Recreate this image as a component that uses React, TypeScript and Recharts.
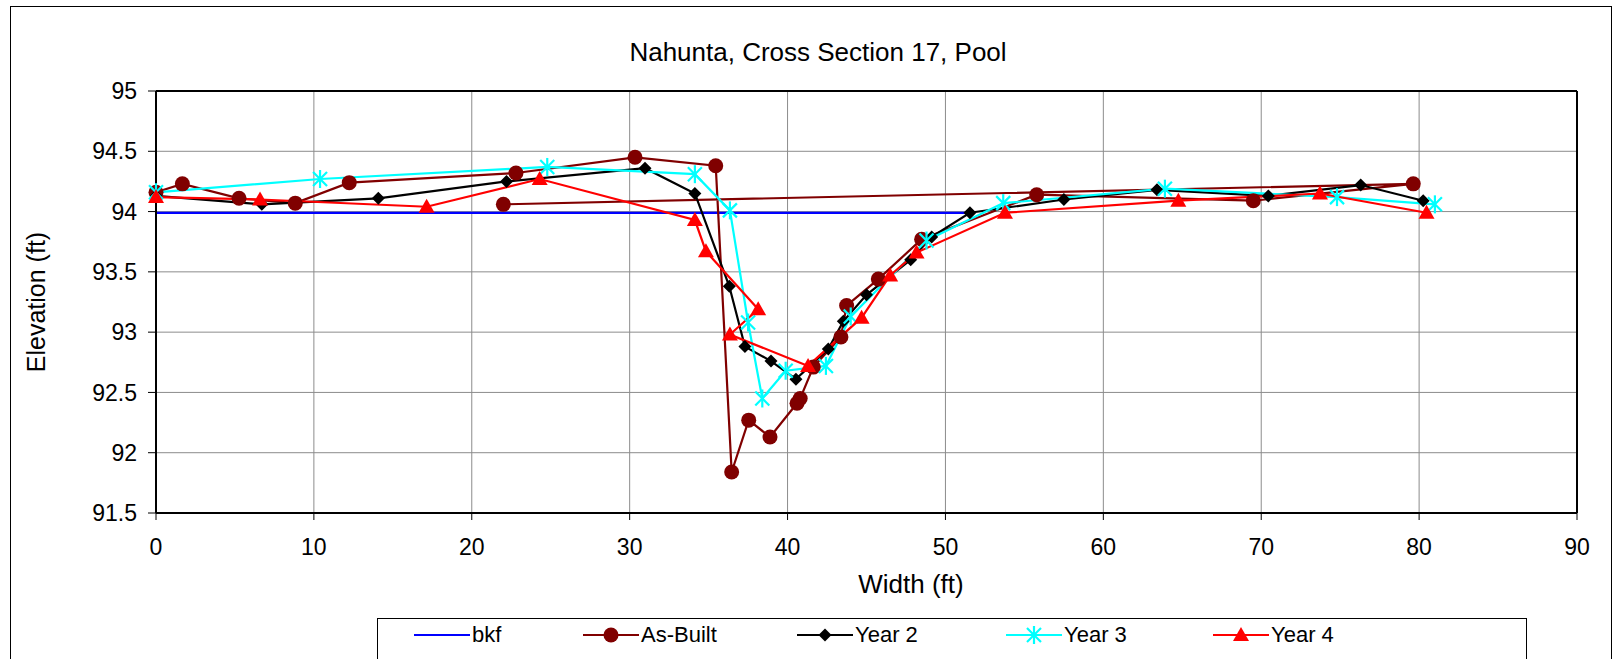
import { LineChart, Line, XAxis, YAxis, CartesianGrid, ReferenceLine, Legend, Label } from 'recharts';

const FONT = 'Arial, "Liberation Sans", sans-serif';

// bankfull line
const bkfWidth = [0, 51.5];
const bkfElev = [93.99, 93.99];

// as-built survey (last point loops back to 22 ft)
const asBuiltWidth = [0, 1.67, 5.26, 8.82, 12.24, 22.8, 30.34, 35.45, 36.46, 37.54, 38.89, 40.6, 40.8, 41.63, 43.38, 43.74, 45.75, 48.49, 55.78, 69.5, 79.63, 22.0];
const asBuiltElev = [94.16, 94.23, 94.11, 94.07, 94.24, 94.32, 94.45, 94.38, 91.84, 92.27, 92.13, 92.41, 92.45, 92.71, 92.96, 93.22, 93.44, 93.77, 94.14, 94.09, 94.23, 94.06];

const year2Width = [0, 6.7, 14.08, 22.2, 30.97, 34.13, 36.31, 37.3, 38.95, 40.53, 42.58, 43.53, 45.0, 47.8, 49.13, 51.55, 57.5, 63.4, 70.45, 76.3, 80.26];
const year2Elev = [94.13, 94.06, 94.11, 94.25, 94.36, 94.15, 93.38, 92.88, 92.76, 92.61, 92.86, 93.09, 93.31, 93.6, 93.79, 93.99, 94.1, 94.18, 94.13, 94.22, 94.09];

const year3Width = [0, 10.39, 24.78, 34.13, 36.35, 37.5, 38.4, 39.88, 42.43, 44.0, 48.8, 53.66, 63.9, 74.8, 81.0];
const year3Elev = [94.16, 94.27, 94.37, 94.31, 94.01, 93.08, 92.45, 92.68, 92.72, 93.13, 93.76, 94.07, 94.19, 94.12, 94.06];

const year4Width = [0, 6.59, 17.14, 24.3, 34.13, 34.83, 38.14, 36.35, 41.3, 44.69, 46.5, 48.17, 53.77, 64.75, 73.72, 80.47];
const year4Elev = [94.12, 94.1, 94.04, 94.27, 93.93, 93.67, 93.19, 92.98, 92.72, 93.12, 93.47, 93.66, 93.99, 94.09, 94.15, 93.99];

const xTicks = [0, 10, 20, 30, 40, 50, 60, 70, 80, 90];
const yTicks = [91.5, 92, 92.5, 93, 93.5, 94, 94.5, 95];

const toPoints = (w: number[], e: number[]) => w.map((x, i) => ({ x, y: e[i] }));

type Kind = 'none' | 'circle' | 'diamond' | 'star' | 'triangle';

const series: { name: string; color: string; kind: Kind; data: { x: number; y: number }[] }[] = [
  { name: 'bkf', color: '#0000FF', kind: 'none', data: toPoints(bkfWidth, bkfElev) },
  { name: 'As-Built', color: '#800000', kind: 'circle', data: toPoints(asBuiltWidth, asBuiltElev) },
  { name: 'Year 2', color: '#000000', kind: 'diamond', data: toPoints(year2Width, year2Elev) },
  { name: 'Year 3', color: '#00FFFF', kind: 'star', data: toPoints(year3Width, year3Elev) },
  { name: 'Year 4', color: '#FF0000', kind: 'triangle', data: toPoints(year4Width, year4Elev) },
];

const Marker = ({ kind, cx, cy, color }: { kind: Kind; cx: number; cy: number; color: string }) => {
  if (cx == null || cy == null) return null;
  switch (kind) {
    case 'circle':
      return <circle cx={cx} cy={cy} r={7.5} fill={color} />;
    case 'diamond':
      return <polygon points={`${cx},${cy - 6.5} ${cx + 6.5},${cy} ${cx},${cy + 6.5} ${cx - 6.5},${cy}`} fill={color} />;
    case 'star':
      return (
        <g stroke={color} strokeWidth={2.2}>
          <line x1={cx - 7} y1={cy - 7} x2={cx + 7} y2={cy + 7} />
          <line x1={cx - 7} y1={cy + 7} x2={cx + 7} y2={cy - 7} />
          <line x1={cx} y1={cy - 9} x2={cx} y2={cy + 9} />
        </g>
      );
    case 'triangle':
      return <polygon points={`${cx},${cy - 8} ${cx + 8},${cy + 6} ${cx - 8},${cy + 6}`} fill={color} />;
    default:
      return null;
  }
};

// legend sample centres (page px)
const legendLeft = 377;
const legendCentres = [441, 610, 824, 1033, 1240];

const renderLegend = () => (
  <div
    style={{
      position: 'relative',
      width: 1150,
      height: 50,
      border: '1px solid #000',
      boxSizing: 'border-box',
      background: '#fff',
      fontFamily: FONT,
    }}
  >
    {series.map((s, i) => (
      <div
        key={s.name}
        style={{
          position: 'absolute',
          left: legendCentres[i] - legendLeft - 28,
          top: 3,
          display: 'flex',
          alignItems: 'center',
          whiteSpace: 'nowrap',
        }}
      >
        <svg width={56} height={24}>
          <line x1={0} y1={12} x2={56} y2={12} stroke={s.color} strokeWidth={2.2} />
          <Marker kind={s.kind} cx={28} cy={12} color={s.color} />
        </svg>
        <span style={{ fontSize: 22, marginLeft: 2, color: '#000' }}>{s.name}</span>
      </div>
    ))}
  </div>
);

export default function App() {
  return (
    <div style={{ position: 'absolute', left: 0, top: 0, width: 1617, height: 659, background: '#fff', fontFamily: FONT }}>
      <div
        style={{
          position: 'absolute',
          left: 10,
          top: 6,
          width: 1602,
          height: 700,
          border: '1px solid #000',
          boxSizing: 'border-box',
        }}
      />
      <div
        style={{
          position: 'absolute',
          left: 818,
          top: 52,
          transform: 'translate(-50%, -50%)',
          fontSize: 26,
          whiteSpace: 'nowrap',
          color: '#000',
        }}
      >
        Nahunta, Cross Section 17, Pool
      </div>
      <LineChart width={1617} height={659} margin={{ top: 91, right: 40, bottom: 106, left: 96 }}>
        <CartesianGrid stroke="#8c8c8c" strokeWidth={1} />
        <XAxis
          type="number"
          dataKey="x"
          domain={[0, 90]}
          ticks={xTicks}
          height={40}
          tickSize={7}
          tickMargin={19}
          axisLine={{ stroke: '#000', strokeWidth: 2 }}
          tickLine={{ stroke: '#000', strokeWidth: 1 }}
          tick={{ fontSize: 23, fill: '#000' }}
        >
          <Label
            content={() => (
              <text x={911} y={584} textAnchor="middle" dominantBaseline="central" fontSize={26} fill="#000">
                Width (ft)
              </text>
            )}
          />
        </XAxis>
        <YAxis
          type="number"
          dataKey="y"
          domain={[91.5, 95]}
          ticks={yTicks}
          width={60}
          tickSize={8}
          tickMargin={11}
          axisLine={{ stroke: '#000', strokeWidth: 2 }}
          tickLine={{ stroke: '#000', strokeWidth: 1 }}
          tick={{ fontSize: 23, fill: '#000' }}
        >
          <Label
            content={() => (
              <text
                x={36}
                y={302}
                transform="rotate(-90, 36, 302)"
                textAnchor="middle"
                dominantBaseline="central"
                fontSize={25}
                fill="#000"
              >
                Elevation (ft)
              </text>
            )}
          />
        </YAxis>
        <ReferenceLine y={95} stroke="#000" strokeWidth={2} />
        <ReferenceLine x={90} stroke="#000" strokeWidth={2} />
        {series.map((s) => (
          <Line
            key={s.name}
            name={s.name}
            data={s.data}
            dataKey="y"
            type="linear"
            stroke={s.color}
            strokeWidth={2.2}
            isAnimationActive={false}
            activeDot={false}
            dot={
              s.kind === 'none'
                ? false
                : (p: any) => <Marker key={`${s.name}-${p.index}`} kind={s.kind} cx={p.cx} cy={p.cy} color={s.color} />
            }
          />
        ))}
        <Legend
          layout="horizontal"
          verticalAlign="middle"
          align="center"
          content={renderLegend}
          wrapperStyle={{ left: legendLeft, top: 618, width: 1150, height: 50 }}
        />
      </LineChart>
    </div>
  );
}
